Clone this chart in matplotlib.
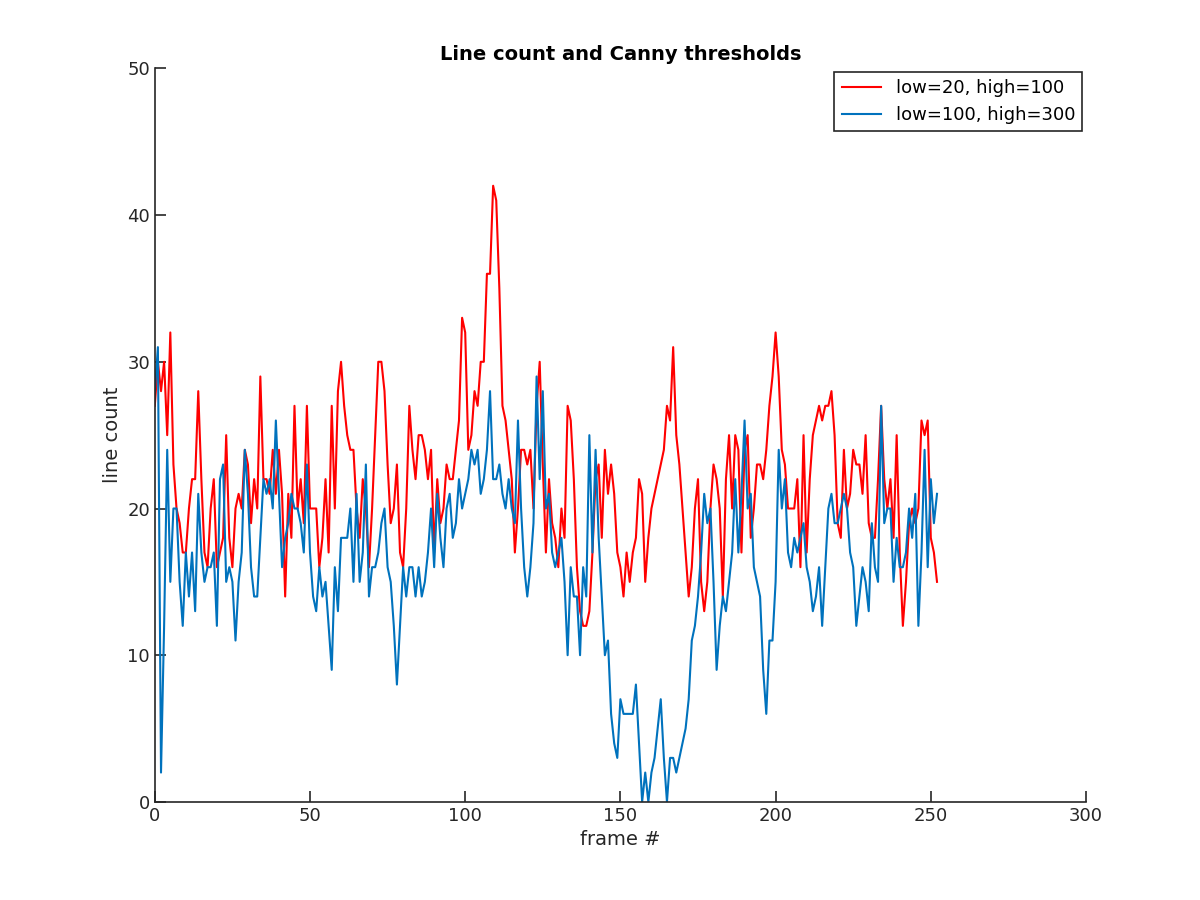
import matplotlib.pyplot as plt
import numpy as np

# line counts per frame
low20 = [27, 30, 28, 30, 25, 32, 23, 20, 19, 17, 17, 20, 22, 22, 28, 22, 17, 16, 20, 22,
         16, 17, 18, 25, 18, 16, 20, 21, 20, 24, 23, 19, 22, 20, 29, 22, 22, 21, 24, 21,
         24, 21, 14, 21, 18, 27, 20, 22, 19, 27, 20, 20, 20, 16, 18, 22, 17, 27, 20, 28,
         30, 27, 25, 24, 24, 20, 18, 22, 20, 16, 20, 25, 30, 30, 28, 23, 19, 20, 23, 17,
         16, 20, 27, 24, 22, 25, 25, 24, 22, 24, 17, 22, 19, 20, 23, 22, 22, 24, 26, 33,
         32, 24, 25, 28, 27, 30, 30, 36, 36, 42, 41, 35, 27, 26, 24, 22, 17, 20, 24, 24,
         23, 24, 20, 27, 30, 23, 17, 22, 19, 18, 16, 20, 18, 27, 26, 22, 16, 13, 12, 12,
         13, 17, 22, 23, 18, 24, 21, 23, 21, 17, 16, 14, 17, 15, 17, 18, 22, 21, 15, 18,
         20, 21, 22, 23, 24, 27, 26, 31, 25, 23, 20, 17, 14, 16, 20, 22, 15, 13, 15, 20,
         23, 22, 20, 14, 22, 25, 20, 25, 24, 17, 24, 25, 18, 20, 23, 23, 22, 24, 27, 29,
         32, 29, 24, 23, 20, 20, 20, 22, 16, 25, 17, 22, 25, 26, 27, 26, 27, 27, 28, 25,
         19, 18, 24, 20, 21, 24, 23, 23, 21, 25, 19, 18, 18, 22, 27, 22, 20, 22, 18, 25,
         17, 12, 15, 19, 20, 19, 20, 26, 25, 26, 18, 17, 15]
low100 = [28, 31, 2, 12, 24, 15, 20, 20, 15, 12, 17, 14, 17, 13, 21, 17, 15, 16, 16, 17,
          12, 22, 23, 15, 16, 15, 11, 15, 17, 24, 21, 16, 14, 14, 18, 22, 21, 22, 20, 26,
          21, 16, 18, 19, 21, 20, 20, 19, 17, 23, 17, 14, 13, 16, 14, 15, 12, 9, 16, 13,
          18, 18, 18, 20, 15, 21, 15, 17, 23, 14, 16, 16, 17, 19, 20, 16, 15, 12, 8, 12,
          16, 14, 16, 16, 14, 16, 14, 15, 17, 20, 16, 21, 18, 16, 20, 21, 18, 19, 22, 20,
          21, 22, 24, 23, 24, 21, 22, 24, 28, 22, 22, 23, 21, 20, 22, 20, 19, 26, 20, 16,
          14, 16, 19, 29, 22, 28, 20, 21, 17, 16, 17, 18, 15, 10, 16, 14, 14, 10, 16, 14,
          25, 17, 24, 18, 14, 10, 11, 6, 4, 3, 7, 6, 6, 6, 6, 8, 4, 0, 2, 0,
          2, 3, 5, 7, 3, 0, 3, 3, 2, 3, 4, 5, 7, 11, 12, 14, 17, 21, 19, 20,
          15, 9, 12, 14, 13, 15, 17, 22, 17, 21, 26, 20, 21, 16, 15, 14, 9, 6, 11, 11,
          15, 24, 20, 22, 17, 16, 18, 17, 18, 19, 16, 15, 13, 14, 16, 12, 16, 20, 21, 19,
          19, 20, 21, 20, 17, 16, 12, 14, 16, 15, 13, 19, 16, 15, 27, 19, 20, 20, 15, 18,
          16, 16, 17, 20, 18, 21, 12, 17, 24, 16, 22, 19, 21]

frames = np.arange(len(low20))

fig = plt.figure(figsize=(12, 9), dpi=100)
ax = fig.add_axes([0.129, 0.109, 0.776, 0.815])
ax.plot(frames, low20, color='#ff0000', lw=1.5, label='low=20, high=100')
ax.plot(frames, low100, color='#0072bd', lw=1.5, label='low=100, high=300')

ax.set_xlim(0, 300)
ax.set_ylim(0, 50)
ax.set_xticks([0, 50, 100, 150, 200, 250, 300])
ax.set_yticks([0, 10, 20, 30, 40, 50])
ax.spines['top'].set_visible(False)
ax.spines['right'].set_visible(False)
for s in ('left', 'bottom'):
    ax.spines[s].set_color('#262626')
    ax.spines[s].set_linewidth(1.2)
ax.tick_params(direction='in', length=8, width=1.2, labelsize=13, colors='#262626')
ax.set_xlabel('frame #', fontsize=14, color='#262626')
ax.set_ylabel('line count', fontsize=14, color='#262626')
ax.set_title('Line count and Canny thresholds', fontsize=14, fontweight='bold')

leg = ax.legend(loc='upper right', fontsize=13, fancybox=False, framealpha=1,
                edgecolor='#262626', handlelength=2.2, borderaxespad=0.2)
leg.get_frame().set_linewidth(1.2)

fig.savefig('out.png')
